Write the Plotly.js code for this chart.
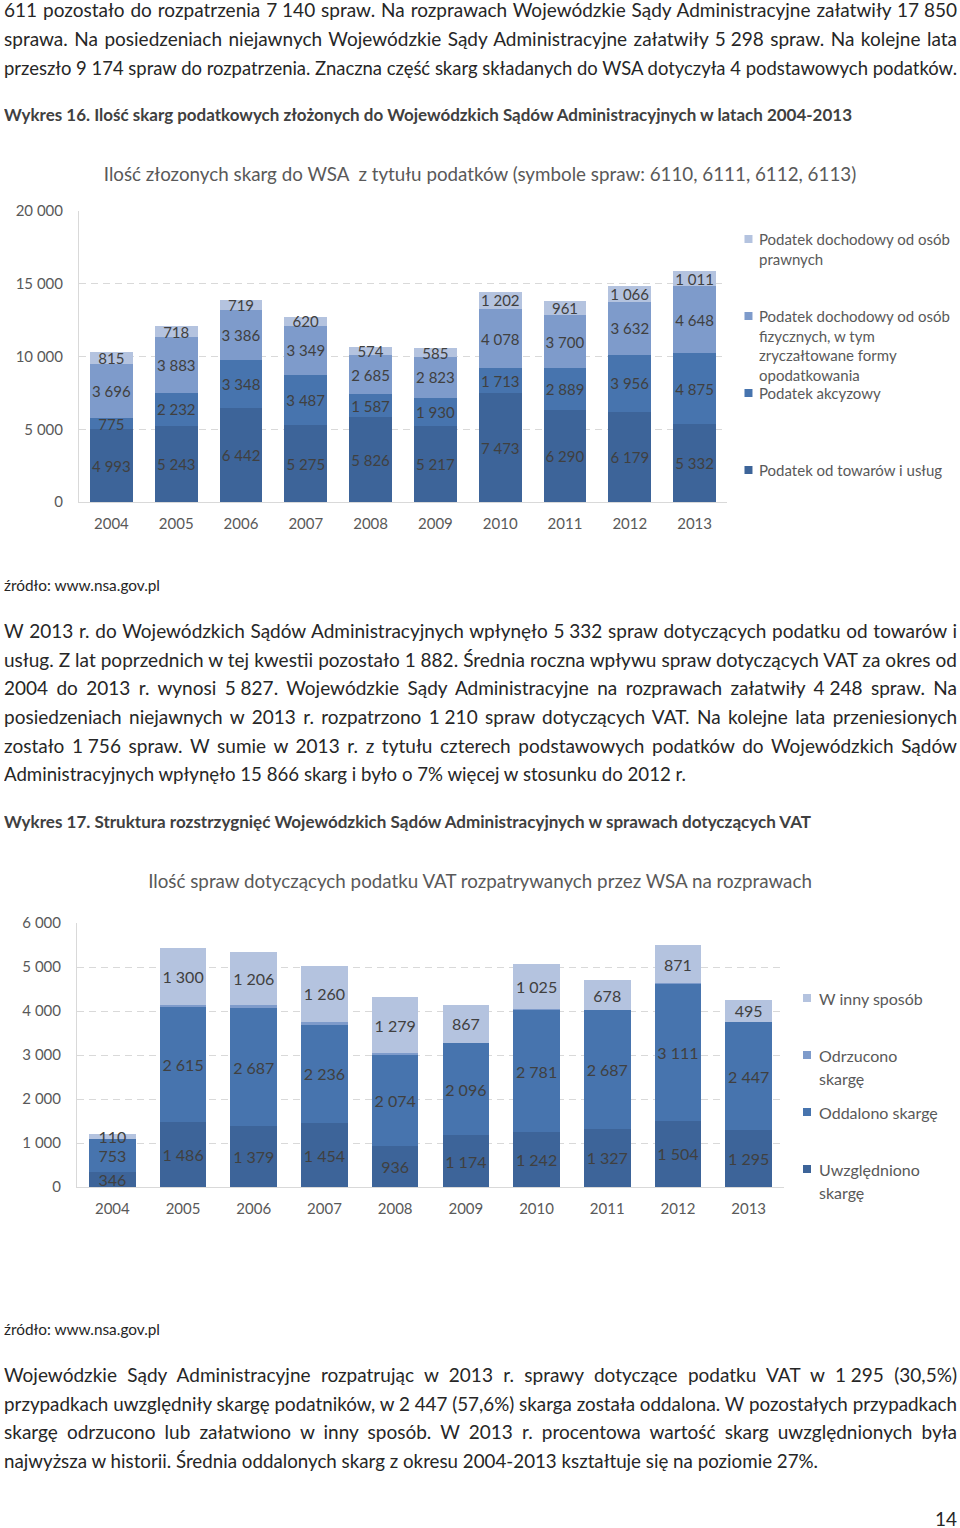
<!DOCTYPE html>
<html><head><meta charset="utf-8">
<script src="https://cdn.plot.ly/plotly-3.0.1.min.js"></script>
<style>
body{margin:0;width:960px;height:1528px;position:relative;background:#fff;overflow:hidden;font-family:Lato,'Open Sans',sans-serif;color:#262626;}
.ln{position:absolute;left:4px;white-space:nowrap;transform-origin:0 50%;font-size:19px;line-height:28px;height:28px;}
.hd{font-weight:bold;font-size:17px;color:#404040;}
.src{font-size:15px;color:#262626;}
.nb{word-spacing:0 !important;}
#c1{position:absolute;left:0;top:140px;width:960px;height:400px;}
#c2{position:absolute;left:0;top:850px;width:960px;height:380px;}
</style></head>
<body>
<div class="ln" style="top:-4px" data-w="953">611 pozostało do rozpatrzenia 7 140 spraw. Na rozprawach Wojewódzkie Sądy Administracyjne załatwiły 17 850</div>
<div class="ln" style="top:25px" data-w="953">sprawa. Na posiedzeniach niejawnych Wojewódzkie Sądy Administracyjne załatwiły 5 298 spraw. Na kolejne lata</div>
<div class="ln" style="top:54px" data-w="953">przeszło 9 174 spraw do rozpatrzenia. Znaczna część skarg składanych do WSA dotyczyła 4 podstawowych podatków.</div>
<div class="ln hd" style="top:101px" data-w="848" data-m="scale">Wykres 16. Ilość skarg podatkowych złożonych do Wojewódzkich Sądów Administracyjnych w latach 2004-2013</div>
<div class="ln src" style="top:571px" data-w="156" data-m="scale">źródło: www.nsa.gov.pl</div>
<div class="ln" style="top:617px" data-w="953">W 2013 r. do Wojewódzkich Sądów Administracyjnych wpłynęło 5 332 spraw dotyczących podatku od towarów i</div>
<div class="ln" style="top:646px" data-w="953">usług. Z lat poprzednich w tej kwestii pozostało 1 882. Średnia roczna wpływu spraw dotyczących VAT za okres od</div>
<div class="ln" style="top:674px" data-w="953">2004 do 2013 r. wynosi 5 827. Wojewódzkie Sądy Administracyjne na rozprawach załatwiły 4 248 spraw. Na</div>
<div class="ln" style="top:703px" data-w="953">posiedzeniach niejawnych w 2013 r. rozpatrzono 1 210 spraw dotyczących VAT. Na kolejne lata przeniesionych</div>
<div class="ln" style="top:732px" data-w="953">zostało 1 756 spraw. W sumie w 2013 r. z tytułu czterech podstawowych podatków do Wojewódzkich Sądów</div>
<div class="ln" style="top:760px" data-w="682">Administracyjnych wpłynęło 15 866 skarg i było o 7% więcej w stosunku do 2012 r.</div>
<div class="ln hd" style="top:808px" data-w="807" data-m="scale">Wykres 17. Struktura rozstrzygnięć Wojewódzkich Sądów Administracyjnych w sprawach dotyczących VAT</div>
<div class="ln src" style="top:1315px" data-w="156" data-m="scale">źródło: www.nsa.gov.pl</div>
<div class="ln" style="top:1361px" data-w="953">Wojewódzkie Sądy Administracyjne rozpatrując w 2013 r. sprawy dotyczące podatku VAT w 1 295 (30,5%)</div>
<div class="ln" style="top:1390px" data-w="953">przypadkach uwzględniły skargę podatników, w 2 447 (57,6%) skarga została oddalona. W pozostałych przypadkach</div>
<div class="ln" style="top:1418px" data-w="953">skargę odrzucono lub załatwiono w inny sposób. W 2013 r. procentowa wartość skarg uwzględnionych była</div>
<div class="ln" style="top:1447px" data-w="814">najwyższa w historii. Średnia oddalonych skarg z okresu 2004-2013 kształtuje się na poziomie 27%.</div>
<div class="ln" style="top:1504px;left:935px;font-size:20px" data-w="22" data-m="scale">14</div>
<div id="c1"></div>
<div id="c2"></div>
<script>
// ---------- DATA ----------
const years = ['2004','2005','2006','2007','2008','2009','2010','2011','2012','2013'];

// Chart 1 (Wykres 16)
const chart1Title = 'Ilość złozonych skarg do WSA  z tytułu podatków (symbole spraw: 6110, 6111, 6112, 6113)';
const towarow    = [4993, 5243, 6442, 5275, 5826, 5217, 7473, 6290, 6179, 5332];
const akcyzowy   = [775, 2232, 3348, 3487, 1587, 1930, 1713, 2889, 3956, 4875];
const fizycznych = [3696, 3883, 3386, 3349, 2685, 2823, 4078, 3700, 3632, 4648];
const prawnych   = [815, 718, 719, 620, 574, 585, 1202, 961, 1066, 1011];
const legend1Lines = [
  ['Podatek od towarów i usług'],
  ['Podatek akcyzowy'],
  ['Podatek dochodowy od osób', 'fizycznych, w tym', 'zryczałtowane formy', 'opodatkowania'],
  ['Podatek dochodowy od osób', 'prawnych']
];

// Chart 2 (Wykres 17)
const chart2Title = 'Ilość spraw dotyczących podatku VAT rozpatrywanych przez WSA na rozprawach';
const uwzgledniono = [346, 1486, 1379, 1454, 936, 1174, 1242, 1327, 1504, 1295];
const oddalono     = [753, 2615, 2687, 2236, 2074, 2096, 2781, 2687, 3111, 2447];
const odrzucono    = [0, 40, 60, 70, 30, 10, 15, 10, 15, 11];
const innySposob   = [110, 1300, 1206, 1260, 1279, 867, 1025, 678, 871, 495];
const legend2Lines = [
  ['Uwzględniono', 'skargę'],
  ['Oddalono skargę'],
  ['Odrzucono', 'skargę'],
  ['W inny sposób']
];

// ---------- STYLE ----------
const colors = ['#3D6499', '#4774AE', '#7E9BCB', '#B4C3DF'];
const FONT = 'Lato, "Open Sans", sans-serif';
const fmt = v => String(v).replace(/\B(?=(\d{3})+(?!\d))/g, '\u00A0');

function barTrace(vals, name, color, labelled, size) {
  return {
    type: 'bar', x: years, y: vals, name: name,
    marker: {color: color, line: {width: 0}},
    text: labelled ? vals.map(fmt) : undefined,
    textposition: labelled ? 'inside' : 'none',
    insidetextanchor: 'middle', textangle: 0, constraintext: 'none',
    insidetextfont: {family: FONT, size: size, color: '#404040'},
    hoverinfo: 'skip'
  };
}

function legendItems(lines, sqX, txtX, ys, fontSize, geom) {
  const pw = geom.W - geom.l - geom.r, ph = geom.H - geom.t - geom.b;
  const px = X => (X - geom.l) / pw;
  const py = Y => (geom.H - geom.b - Y) / ph;
  const anns = [], shapes = [];
  lines.forEach((ls, i) => {
    const yy = ys[i];
    shapes.push({type: 'rect', xref: 'paper', yref: 'paper',
      x0: px(sqX), x1: px(sqX + 8), y0: py(yy[0] + 4), y1: py(yy[0] - 4),
      fillcolor: colors[i], line: {width: 0}});
    ls.forEach((t, j) => anns.push({xref: 'paper', yref: 'paper', x: px(txtX), y: py(yy[j]),
      xanchor: 'left', yanchor: 'middle', showarrow: false, text: t,
      font: {family: FONT, size: fontSize, color: '#595959'}}));
  });
  return {anns, shapes};
}

function baseLayout(geom, title, titleY, ymax, dtick, tickSize, xtl) {
  return {
    width: geom.W, height: geom.H,
    margin: {l: geom.l, r: geom.r, t: geom.t, b: geom.b, pad: 0},
    barmode: 'stack', bargap: 0.34, showlegend: false,
    paper_bgcolor: '#fff', plot_bgcolor: '#fff', separators: ', ',
    font: {family: FONT, color: '#595959'},
    title: {text: title, font: {family: FONT, size: 18.8, color: '#595959'},
      x: 0.5, xref: 'container', xanchor: 'center', y: 1 - titleY / geom.H, yref: 'container', yanchor: 'middle'},
    xaxis: {type: 'category', showline: true, linecolor: '#D9D9D9', linewidth: 1,
      ticks: 'outside', ticklen: xtl, tickcolor: 'rgba(0,0,0,0)', tickfont: {size: tickSize, color: '#595959'}},
    yaxis: {range: [0, ymax], dtick: dtick, tick0: 0, tickformat: ',d', showgrid: true, gridcolor: '#D9D9D9', griddash: '7px,5px',
      showline: true, linecolor: '#D9D9D9', zeroline: false, separatethousands: true,
      ticks: 'outside', ticklen: 12, tickcolor: 'rgba(0,0,0,0)', tickfont: {size: tickSize, color: '#595959'}}
  };
}

document.fonts.ready.then(() => {
  document.querySelectorAll('.ln').forEach(el => {
    el.innerHTML = el.innerHTML.replace(/(\d) (\d{3})/g, '<span class="nb">$1 $2</span>');
    const W = +el.dataset.w;
    const w = el.getBoundingClientRect().width;
    const spaces = (el.textContent.match(/ /g) || []).length - el.querySelectorAll('.nb').length;
    if (el.dataset.m === 'scale' || w > W) el.style.transform = 'scaleX(' + (W / w) + ')';
    else if (spaces > 0) el.style.wordSpacing = ((W - w) / spaces) + 'px';
  });

  // Chart 1
  const g1 = {W: 960, H: 400, l: 79, r: 232.5, t: 71, b: 38};
  const t1 = [
    barTrace(towarow, legend1Lines[0].join(' '), colors[0], true, 15),
    barTrace(akcyzowy, legend1Lines[1].join(' '), colors[1], true, 15),
    barTrace(fizycznych, legend1Lines[2].join(' '), colors[2], true, 15),
    barTrace(prawnych, legend1Lines[3].join(' '), colors[3], true, 15)
  ];
  const L1 = baseLayout(g1, chart1Title, 34, 20000, 5000, 15, 8);
  const lg1 = legendItems(legend1Lines, 745, 758, [[330], [253], [176, 196, 215, 235], [99, 119]], 15, g1);
  L1.annotations = lg1.anns; L1.shapes = lg1.shapes;
  Plotly.newPlot('c1', t1, L1, {staticPlot: true});

  // Chart 2
  const g2 = {W: 960, H: 380, l: 77, r: 176, t: 73, b: 43};
  const t2 = [
    barTrace(uwzgledniono, legend2Lines[0].join(' '), colors[0], true, 16),
    barTrace(oddalono, legend2Lines[1].join(' '), colors[1], true, 16),
    barTrace(odrzucono, legend2Lines[2].join(' '), colors[2], false, 16),
    barTrace(innySposob, legend2Lines[3].join(' '), colors[3], true, 16)
  ];
  const L2 = baseLayout(g2, chart2Title, 31, 6000, 1000, 15, 8);
  const lg2 = legendItems(legend2Lines, 803, 817, [[319, 342], [262], [205, 228], [148]], 16, g2);
  L2.annotations = lg2.anns; L2.shapes = lg2.shapes;
  Plotly.newPlot('c2', t2, L2, {staticPlot: true});
});
</script>
</body></html>
